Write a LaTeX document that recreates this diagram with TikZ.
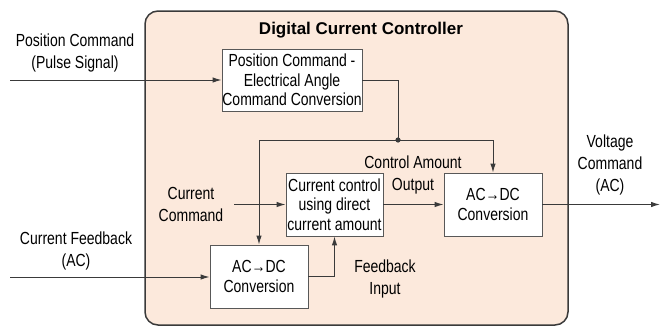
\documentclass[tikz,border=0pt]{standalone}
\usepackage{fontspec}
\setmainfont{Liberation Sans}[FakeStretch=0.8]
\newfontfamily\titlefont{Liberation Sans}
\usetikzlibrary{arrows.meta}
\definecolor{panel}{HTML}{FCE9DC}
\definecolor{edge}{HTML}{3A3A3A}
\tikzset{
  block/.style={draw=edge!85, fill=white, line width=0.9pt, align=center, inner sep=0pt,
    font=\fontsize{17.5}{19.5}\selectfont},
  lbl/.style={align=center, inner sep=0pt, font=\fontsize{17.5}{22}\selectfont},
  wire/.style={draw=edge, line width=1pt},
  sig/.style={wire, -{Latex[length=9pt,width=5.5pt]}}
}
\begin{document}
\begin{tikzpicture}[x=1pt,y=-1pt]
  \useasboundingbox (0,0) rectangle (661,327);
  % controller panel
  \draw[draw=edge, line width=1.5pt, fill=panel, rounded corners=13pt] (145,11) rectangle (568,325);
  \node[font=\titlefont\bfseries\fontsize{17}{20}\selectfont] (title) at (361,30) {Digital Current Controller};

  % blocks
  \node[block, minimum width=140pt, minimum height=62pt] (pcconv) at (292,80)
    {Position Command -\\Electrical Angle\\Command Conversion};
  \node[block, minimum width=97pt, minimum height=63pt] (ctrl) at (334.5,204.5)
    {Current control\\using direct\\current amount};
  \node[block, minimum width=98pt, minimum height=63pt] (acdcout) at (493,204.5)
    {AC→DC\\Conversion};
  \node[block, minimum width=98pt, minimum height=63pt] (acdcfb) at (259,276.5)
    {AC→DC\\Conversion};

  % labels
  \node[lbl] (poslbl) at (75,53) {Position Command\\(Pulse Signal)};
  \node[lbl] (fblbl) at (76,251) {Current Feedback\\(AC)};
  \node[lbl] (cmdlbl) at (191,204) {Current\\Command};
  \node[lbl] (outlbl) at (413,175) {Control Amount\\Output};
  \node[lbl] (inlbl) at (385,279) {Feedback\\Input};
  \node[lbl] (vlbl) at (610,165) {Voltage\\Command\\(AC)};

  % signal ends
  \coordinate (posin) at (10,80);
  \coordinate (fbin) at (10,277);
  \coordinate (cmdin) at (234,204.5);
  \coordinate (vout) at (660,204.5);
  \coordinate (jn) at (398,140);

  % connections
  \draw[sig] (posin) -- (pcconv);
  \draw[wire] (pcconv.east) -| (jn);
  \draw[sig] (jn) -| (acdcfb.north);
  \draw[sig] (jn) -| (acdcout.north);
  \fill[edge] (jn) circle (2.6pt);
  \draw[sig] (cmdin) -- (ctrl);
  \draw[sig] (ctrl) -- (acdcout);
  \draw[sig] (acdcout) -- (vout);
  \draw[sig] (fbin) -- (fbin -| acdcfb.west);
  \draw[sig] (acdcfb.east) -| (ctrl.south);
\end{tikzpicture}
\end{document}
